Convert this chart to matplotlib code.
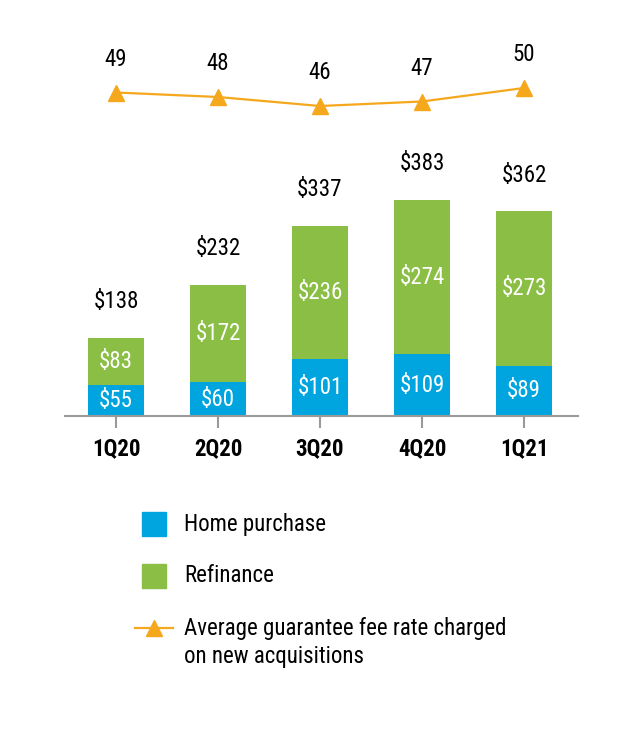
import matplotlib
matplotlib.use('Agg')
import matplotlib.pyplot as plt
from matplotlib.patches import Rectangle
from matplotlib.lines import Line2D

plt.rcParams['font.family'] = ['Liberation Sans Narrow', 'DejaVu Sans Condensed',
                               'Roboto Condensed', 'Liberation Sans']

quarters = ['1Q20', '2Q20', '3Q20', '4Q20', '1Q21']
home_purchase = [55, 60, 101, 109, 89]
refinance = [83, 172, 236, 274, 273]
totals = [138, 232, 337, 383, 362]
fee_rate = [49, 48, 46, 47, 50]

blue = '#00A5DF'
green = '#8BBE45'
orange = '#F5A81C'
gray = '#9A9A9A'
fs = 16.5

fig = plt.figure(figsize=(6.4, 7.54), dpi=100)
W, H = 640, 754

# bars
ax = fig.add_axes([65 / W, 1 - 416 / H, 513 / W, 280 / H])
x = list(range(len(quarters)))
ax.bar(x, home_purchase, width=0.55, color=blue)
ax.bar(x, refinance, width=0.55, bottom=home_purchase, color=green)
ax.set_xlim(-0.5, 4.53)
ax.set_ylim(0, 280 / 0.565)
for i in x:
    ax.text(i, home_purchase[i] / 2, '$%d' % home_purchase[i], ha='center', va='center',
            color='white', fontsize=fs)
    ax.text(i, home_purchase[i] + refinance[i] / 2, '$%d' % refinance[i], ha='center',
            va='center', color='white', fontsize=fs)
    ax.annotate('$%d' % totals[i], (i, totals[i]), xytext=(0, 26), textcoords='offset points',
                ha='center', va='center', fontsize=fs, annotation_clip=False)
for s in ['top', 'right', 'left']:
    ax.spines[s].set_visible(False)
ax.spines['bottom'].set_color(gray)
ax.spines['bottom'].set_linewidth(1.5)
ax.set_yticks([])
ax.set_xticks(x)
ax.set_xticklabels(quarters, fontsize=fs, fontweight='bold')
ax.tick_params(axis='x', direction='out', length=8.5, width=1.5, color=gray, pad=7)
ax.patch.set_alpha(0)

# line
ax2 = fig.add_axes([65 / W, 1 - 133 / H, 513 / W, 90 / H])
ax2.plot(x, fee_rate, color=orange, lw=1.6, marker='^', ms=11, mec=orange, mfc=orange)
ax2.set_xlim(-0.5, 4.53)
ax2.set_ylim(40, 60)
for i in x:
    ax2.annotate(str(fee_rate[i]), (i, fee_rate[i]), xytext=(0, 24), textcoords='offset points',
                 ha='center', va='center', fontsize=fs, annotation_clip=False)
ax2.axis('off')

# legend
lg = fig.add_axes([0, 0, 1, 1])
lg.set_xlim(0, W)
lg.set_ylim(H, 0)
lg.axis('off')
lg.add_patch(Rectangle((142, 512), 24, 24, color=blue))
lg.add_patch(Rectangle((142, 564), 24, 24, color=green))
lg.add_line(Line2D([135, 173], [628, 628], color=orange, lw=1.6))
lg.plot([154], [628], marker='^', ms=11, color=orange)
lg.text(184, 525, 'Home purchase', va='center', fontsize=fs)
lg.text(184, 576, 'Refinance', va='center', fontsize=fs)
lg.text(184, 628, 'Average guarantee fee rate charged', va='center', fontsize=fs)
lg.text(184, 657, 'on new acquisitions', va='center', fontsize=fs)

fig.savefig('out.png', dpi=100)
